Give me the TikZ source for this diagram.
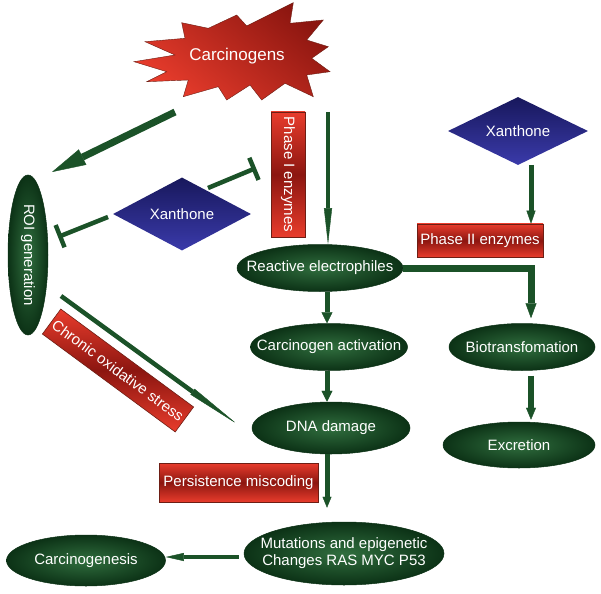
\documentclass[tikz,border=0pt]{standalone}
\usepackage{fontspec}
\setmainfont{Liberation Sans}
\usetikzlibrary{shapes.geometric,arrows.meta,calc}
\definecolor{agreen}{RGB}{27,82,40}
\definecolor{ginner}{RGB}{48,110,62}
\definecolor{gouter}{RGB}{12,50,22}
\definecolor{rbright}{RGB}{232,60,44}
\definecolor{rdark}{RGB}{140,22,16}
\definecolor{redge}{RGB}{110,30,20}
\definecolor{ntop}{RGB}{24,24,92}
\definecolor{nbot}{RGB}{58,58,170}
\tikzset{
  txt/.style={text=white,font=\fontsize{15}{17}\selectfont,align=center,inner sep=0pt},
  oval/.style={ellipse,inner sep=0pt,draw=gouter,line width=0.5pt,inner color=ginner,outer color=gouter},
  redbox/.style={rectangle,draw=redge,line width=0.6pt,top color=rbright,bottom color=rbright,middle color=rdark,text=white,font=\fontsize{15}{17}\selectfont,inner sep=1pt},
  xdiam/.style={diamond,inner sep=0pt,top color=ntop,bottom color=nbot,text=white,font=\fontsize{15}{17}\selectfont},
  arr/.style={draw=agreen,line width=5pt,-{Triangle[length=11pt,width=11pt,line width=0.4pt]}},
  inhib/.style={draw=agreen,line width=4.5pt,-{Bar[width=24pt,line width=4.5pt]}},
}
\begin{document}
\begin{tikzpicture}[x=1pt,y=-1pt]
\useasboundingbox[fill=white] (0,0) rectangle (601,593);
% starburst
\shade[top color=rdark,bottom color=rbright,shading angle=-40,draw=redge,line width=0.4pt]
 (134,61.7) -- (175,55) -- (145,41.7) -- (185,38.3) -- (181.7,22.7) -- (208.3,28.3)
 -- (236.7,15) -- (246.7,26) -- (293.3,2.7) -- (290,23.3) -- (323.3,20) -- (306.7,40)
 -- (328.3,46.7) -- (311.7,58.3) -- (330,71.7) -- (306.7,75) -- (313.3,96.7) -- (285,83.3)
 -- (261.7,100) -- (250,85) -- (226.7,100) -- (218.3,86.7) -- (183.3,96.7) -- (188.3,80)
 -- (146.7,81.7) -- (166.7,71.7) -- cycle;
\node[txt,font=\fontsize{17}{19}\selectfont] (carc) at (237,56) {Carcinogens};

% nodes
\node[oval,minimum width=40pt,minimum height=160pt,label={[txt,rotate=-90]center:ROI generation}] (roi) at (28,255) {};
\node[xdiam,minimum width=138pt,minimum height=73pt,aspect=1.9] (x1) at (182,214) {Xanthone};
\node[redbox,rotate=-90,minimum width=125pt,minimum height=34pt] (ph1) at (288,174.5) {Phase I enzymes};
\node[oval,minimum width=166pt,minimum height=47pt,label={[txt]center:Reactive electrophiles}] (re) at (320,268) {};
\node[xdiam,minimum width=140pt,minimum height=68pt,aspect=2] (x2) at (518,131) {Xanthone};
\node[redbox,minimum width=126pt,minimum height=33pt] (ph2) at (480,240.5) {Phase II enzymes};
\node[oval,minimum width=157pt,minimum height=47pt,label={[txt]center:Carcinogen activation}] (ca) at (329,347) {};
\node[oval,minimum width=158pt,minimum height=52pt,label={[txt]center:DNA damage}] (dna) at (331,428) {};
\node[oval,minimum width=146pt,minimum height=47pt,label={[txt]center:Biotransfomation}] (bio) at (522,347) {};
\node[oval,minimum width=152pt,minimum height=46pt,label={[txt]center:Excretion}] (exc) at (519,445) {};
\node[redbox,rotate=-36.4,minimum width=165pt,minimum height=31pt,inner sep=0pt] (cos) at (118,370.5) {Chronic oxidative stress};
\node[redbox,minimum width=159pt,minimum height=39pt] (pm) at (238.5,482.5) {Persistence miscoding};
\node[oval,minimum width=200pt,minimum height=63pt,label={[txt]center:Mutations and epigenetic\\Changes RAS MYC P53}] (mut) at (344,553.5) {};
\node[oval,minimum width=159pt,minimum height=51pt,label={[txt]center:Carcinogenesis}] (cgen) at (86,560.5) {};

% helper coordinates
\coordinate (a1s) at (175,112);
\coordinate (a1e) at (52,172);
\coordinate (a2s) at (328,112);
\coordinate (a3s) at (531,165);
\coordinate (colx) at (327,0);
\coordinate (bx) at (531,0);
\coordinate (ry) at (0,557);
\coordinate (a9s) at (61,296);
\coordinate (a9e) at (237,424);
\coordinate (i1s) at (208,188);
\coordinate (i1e) at (256,168);
\coordinate (i2s) at (108,217);
\coordinate (i2e) at (58,237);

% connectors
\draw[arr,line width=7pt,-{Triangle[length=34pt,width=17pt,line width=0.4pt]}] (a1s) -- (a1e);
\draw[arr,line width=4pt,-{Triangle[length=36pt,width=8pt,line width=0.4pt]}] (a2s) -- (a2s |- re.north);
\draw[arr,-{Triangle[length=13pt,width=9pt,line width=0.4pt]}] (a3s) -- (a3s |- ph2.north);
\draw[arr] (re.south -| colx) -- (ca.north -| colx);
\draw[arr] (ca.south -| colx) -- (dna.north -| colx);
\draw[arr,-{Triangle[length=11pt,width=9pt,line width=0.4pt]}] (dna.south -| colx) -- ([yshift=14pt]mut.north -| colx);
\draw[arr,line width=7pt,-{Triangle[length=15pt,width=11pt,line width=0.4pt]}] (re.east) -- (re.east -| bx) -- ([yshift=5pt]bio.north -| bx);
\draw[arr,line width=6pt,-{Triangle[length=12pt,width=10pt,line width=0.4pt]}] ([yshift=-5pt]bio.south -| bx) -- ([yshift=2pt]exc.north -| bx);
\draw[arr,line width=4.5pt,-{Triangle[length=18pt,width=8pt,line width=0.4pt]},shorten <=5pt] (mut.west |- ry) -- (cgen.east |- ry);
\draw[arr,line width=4.5pt,-{Triangle[length=55pt,width=7pt,line width=0.4pt]}] (a9s) -- (a9e);
\draw[inhib] (i1s) -- (i1e);
\draw[inhib] (i2s) -- (i2e);
\end{tikzpicture}
\end{document}
